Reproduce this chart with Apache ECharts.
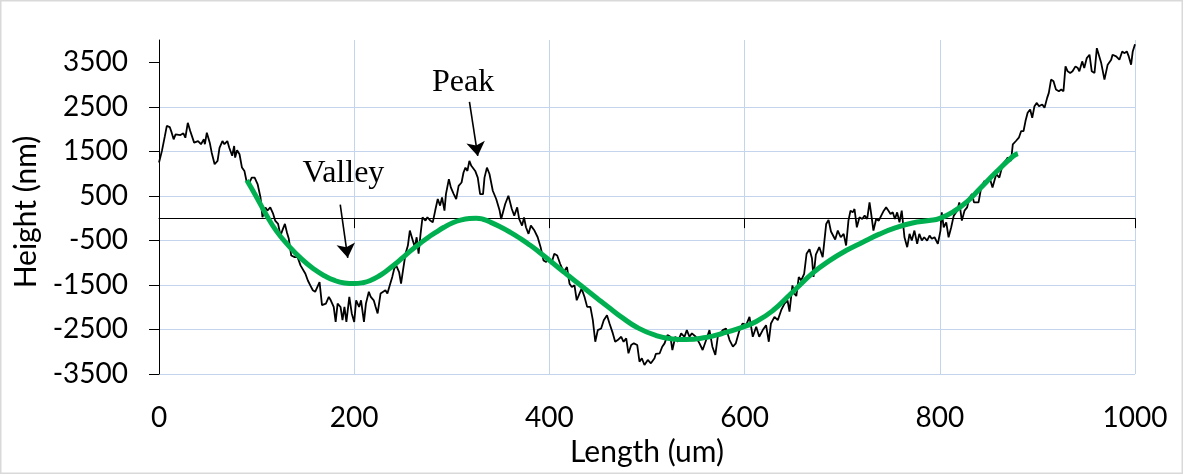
<!DOCTYPE html>
<html>
<head>
<meta charset="utf-8">
<script src="https://cdn.jsdelivr.net/npm/echarts@6/dist/echarts.min.js"></script>
<style>
html,body{margin:0;padding:0;background:#fff;}
#chart{width:1183px;height:474px;}
</style>
</head>
<body>
<div id="chart"></div>
<script>
// Measured profile: length (um) and height (nm)
const lengthUm = [0,3,6,8,11,13,15,17,19,22,25,27,29.5,32,36,38,40,43,46,47,49,52,54,57,60,62,65,67,70,72,75,77,78,80,82.5,85,87.5,89.6,92,95,98,101,104,106,109,111,114,117,119,122,124.5,127,129,131,133,135.5,139,142,145,147,150,152.5,155,157.6,160,162,164.5,167,169,171,174,176,179,181,183,186,188,190,192,195,197.5,200,202,205,207,210,212,215,217,220,222,224,227,229,232,234,237,239,241,243,246,248,250,252.6,255,257,259,262,264,266,268,270,273,275,278,280.5,283,285.6,288,290,292.5,294,297,299,302,304.5,307,310,312,314,316,318,320,322,324,326.6,329,332,333.5,336,338.6,342,345.5,349,350.6,354.7,358,361.5,364,367,369,372,374,376,378.6,381,384.7,388,391,394,396.7,399,402,405,408,411,414.7,418,420.6,423,425.7,428,430.8,433,436,438.7,442,444.5,447,449.6,453,455.7,459,461.6,465,467.4,470,473.6,476,478.7,481,483.8,486.5,490,492.3,494.7,497.4,500.8,504,507.7,509,513,515.6,518,521,524,526,529,531.6,535,538.4,540.8,543.5,546,550,553.8,557,560.6,564,567,570,572.5,577.7,581,584.6,588,591,594.8,598,601.6,605,608.4,611.9,615,618.6,622,624.8,627,630.6,634,637.5,640.9,644,646,649,651,653,655.5,658,661,663.5,666.5,669,670.6,673,676.5,680,683.6,686,688.5,690,692.8,695.5,698.5,701.5,704,706.4,708.5,710.8,712.6,715,717.7,720.5,723,725.6,728,729.7,732,734.8,737.5,740,742.6,745,747.4,749.5,751.8,754,756.3,758.7,761,763.8,766.6,769,771.3,774,776.8,779,781.6,784,787,789.5,791.8,794.6,798,800.7,802,804,806.6,809,811.7,814.3,817.8,820,822.6,825.3,828,830.4,833,835,837,839.7,842.4,845.8,847.5,851,854,857.8,861,864.5,867.3,869.6,873,874.8,878,881,883.4,885.8,887.8,890,892.6,894.7,897,899.4,901.6,905,907.3,910,911.7,914,916.5,919,922,924.4,926.7,928.8,931,933.6,936,939,941.4,943,945.9,948,950.6,953.4,955.7,958.5,960.9,962.9,965.4,968.7,972,975.6,977,980.7,984,986.9,989,991.6,993.6,996,997.7,1000];
const heightNm = [1250,1510,1840,2070,2045,1920,1770,1880,1920,1865,1905,1805,2140,1955,1695,1660,1730,1660,1770,1660,1920,1695,1470,1210,1285,1580,1730,1660,1730,1580,1400,1620,1360,1525,1435,1135,1060,840,765,910,910,765,465,20,240,170,240,95,-55,-130,-390,-240,-130,-315,-465,-840,-875,-875,-1060,-1100,-1250,-1400,-1510,-1620,-1655,-1655,-1435,-1955,-1995,-1920,-1770,-1845,-1995,-2330,-1920,-1995,-2290,-1995,-2330,-1770,-2140,-2330,-1845,-1995,-1845,-2330,-1920,-1655,-1770,-1845,-1995,-2140,-1695,-1695,-1620,-1695,-1470,-1320,-1135,-1060,-1210,-1470,-1175,-800,-615,-280,-240,-650,-430,-800,-355,20,-55,20,-55,-95,170,430,280,465,170,540,875,690,540,430,725,800,1025,1135,1060,1285,1175,1210,1060,910,540,540,910,1135,990,615,430,170,-20,317,503,205,56,241,-18,-168,18,-205,-353,-168,-279,-429,-652,-950,-987,-913,-1024,-800,-838,-1024,-1211,-1099,-1471,-1546,-1509,-1844,-1694,-1582,-1770,-1993,-1993,-2291,-2776,-2514,-2477,-2291,-2179,-2365,-2588,-2776,-2738,-2664,-2776,-2700,-3035,-2850,-2812,-2850,-3223,-3147,-3297,-3185,-3259,-3147,-3050,-3035,-2887,-2812,-2626,-2664,-2961,-2664,-2776,-2588,-2664,-2514,-2664,-2588,-2664,-2812,-2961,-2738,-2514,-2887,-3073,-2664,-2514,-2477,-2738,-2887,-2812,-2514,-2365,-2403,-2217,-2664,-2440,-2664,-2514,-2403,-2776,-2365,-2217,-2291,-2067,-1918,-1850,-2100,-1509,-1694,-1750,-1322,-1397,-1250,-800,-700,-900,-1320,-820,-650,-876,-130,-40,-300,-279,-480,-279,-429,-353,-615,-56,168,130,205,-205,18,-18,56,-18,353,94,-279,-18,-56,56,168,241,168,94,130,-18,130,-94,168,-429,-652,-353,-503,-279,-577,-353,-503,-429,-503,-391,-465,-429,-577,-279,130,-205,-94,-429,-205,56,168,353,-56,168,241,465,541,353,391,353,688,838,764,912,688,988,912,1211,1285,1359,1285,1658,1732,1806,1956,1956,2179,2365,2440,2253,2514,2588,2514,2552,2477,2700,2812,3111,3073,2887,2850,2887,2850,3408,3297,3259,3297,3408,3371,3297,3520,3371,3594,3669,3297,3259,3817,3780,3482,3111,3446,3557,3669,3632,3557,3743,3705,3743,3632,3446,3743,3907];

// Fitted trend (green)
const fitX = [90,100,110,120,132,146,159,170,180,190,200,210,216,225,233,242,250,258,267,275,284,292,301,310,318,325,332,340,350,360,370,380,390,400,410,420,430,441,450,460,475,490,509,526,540,560,577,595,612,629,646,653,670,687,704,721,738,755,772,789,800,815,828,841,858,875,880];
const fitY = [850,470,70,-280,-600,-915,-1150,-1300,-1400,-1455,-1470,-1445,-1405,-1305,-1185,-1030,-880,-730,-575,-445,-315,-205,-105,-40,-8,0,-25,-95,-200,-320,-455,-605,-770,-945,-1125,-1300,-1475,-1665,-1820,-1990,-2240,-2455,-2635,-2712,-2725,-2680,-2590,-2470,-2320,-2075,-1725,-1580,-1230,-955,-728,-540,-360,-215,-110,-55,-5,160,370,660,1040,1390,1450];

// Axis ticks
const yTicks = [-3500,-2500,-1500,-500,500,1500,2500,3500];
const xTicks = [0,200,400,600,800,1000];

// Annotations: [label, text centre x, text centre y] and arrows [x0,y0,x1,y1]
const notes = [['Valley',189,995],['Peak',311.5,3051]];
const arrows = [[185.7,302,193.4,-890],[318.1,2610,326.6,1397]];

const profile = lengthUm.map((x,i)=>[x,heightNm[i]]);
const fit = fitX.map((x,i)=>[x,fitY[i]]);

const font = 'Lato, "Open Sans", sans-serif';
const gridColor = '#C3D4EC';
const plain = v => String(v);

const chart = echarts.init(document.getElementById('chart'), null, {renderer:'canvas'});
chart.setOption({
  animation:false,
  backgroundColor:'#fff',
  graphic:[{type:'rect',shape:{x:0.75,y:0.75,width:1181.5,height:472.5},style:{fill:'none',stroke:'#d9d9d9',lineWidth:1.5},silent:true}],
  grid:{left:159,right:48,top:40,bottom:100},
  xAxis:[{
    type:'value',min:xTicks[0],max:xTicks[xTicks.length-1],interval:200,
    position:'bottom',
    axisLine:{show:false,onZero:false},
    axisTick:{show:false},
    axisLabel:{show:true,margin:30,fontSize:28,fontFamily:font,color:'#000',formatter:plain},
    splitLine:{show:true,showMinLine:false,lineStyle:{color:gridColor,width:1}},
    name:'Length (um)',nameLocation:'middle',nameGap:62,
    nameTextStyle:{fontSize:30,fontFamily:font,color:'#000'}
  },{
    type:'value',min:xTicks[0],max:xTicks[xTicks.length-1],interval:200,
    position:'bottom',
    axisLine:{show:true,onZero:true,onZeroAxisIndex:0,lineStyle:{color:'#000',width:1}},
    axisTick:{show:true,length:10,lineStyle:{color:'#000',width:1}},
    axisLabel:{show:false},
    splitLine:{show:false}
  }],
  yAxis:{
    type:'value',min:-3500,max:4000,interval:1000,
    axisLine:{show:true,onZero:false,lineStyle:{color:'#000',width:1}},
    axisTick:{show:true,length:10,customValues:yTicks,lineStyle:{color:'#000',width:1}},
    axisLabel:{show:true,margin:31,showMaxLabel:false,fontSize:28,fontFamily:font,color:'#000',formatter:plain},
    splitLine:{show:true,showMaxLine:false,lineStyle:{color:gridColor,width:1}},
    name:'Height (nm)',nameLocation:'middle',nameGap:110,
    nameTextStyle:{fontSize:30,fontFamily:font,color:'#000',padding:[0,10,0,0]}
  },
  series:[{
    type:'line',data:profile,xAxisIndex:0,yAxisIndex:0,
    showSymbol:false,symbol:'none',
    lineStyle:{color:'#000',width:1.8},
    z:3,
    markLine:{
      silent:true,symbol:['none','arrow'],symbolSize:14,
      lineStyle:{color:'#000',width:1.6,type:'solid'},
      label:{show:false},
      data:arrows.map(a=>[{coord:[a[0],a[1]]},{coord:[a[2],a[3]]}])
    },
    markPoint:{
      silent:true,symbol:'circle',symbolSize:1,
      itemStyle:{color:'rgba(0,0,0,0)'},
      label:{show:true,position:'inside',formatter:p=>p.name,
        fontFamily:'"Liberation Serif", serif',fontSize:32,color:'#000'},
      data:notes.map(n=>({name:n[0],coord:[n[1],n[2]]}))
    }
  },{
    type:'line',data:fit,smooth:true,xAxisIndex:0,yAxisIndex:0,
    showSymbol:false,symbol:'none',
    lineStyle:{color:'#00B050',width:5},
    z:4
  }]
});
</script>
</body>
</html>
